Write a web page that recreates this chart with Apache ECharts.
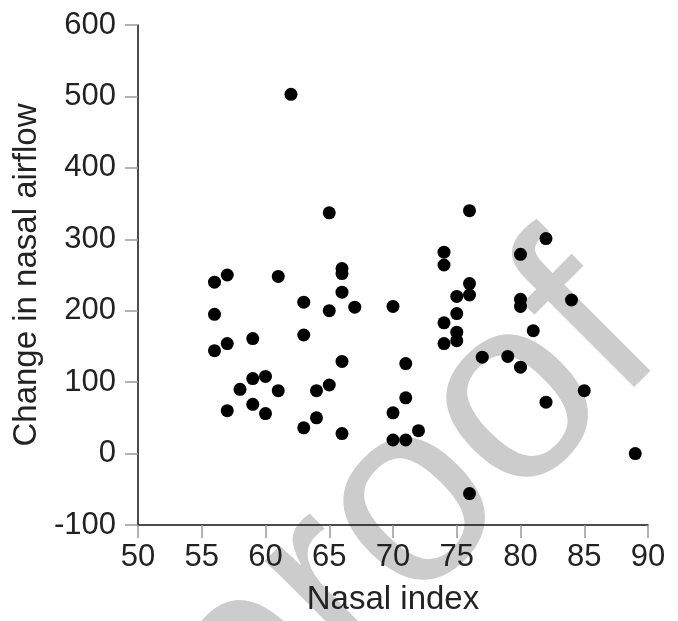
<!DOCTYPE html>
<html>
<head>
<meta charset="utf-8">
<script src="https://cdn.jsdelivr.net/npm/echarts@6/dist/echarts.min.js"></script>
<style>
html,body{margin:0;padding:0;background:#fff;}
#chart{width:678px;height:621px;}
</style>
</head>
<body>
<div id="chart"></div>
<script>
var nasalIndex = [56,57,61,63,56,59,63,57,56,60,59,58,61,64,57,59,60,63,64,62,
                  65,76,74,74,66,66,76,76,75,66,65,67,70,75,74,75,75,74,77,66,
                  71,65,66,71,70,72,70,71,76,82,80,84,80,80,81,79,80,85,82,89];
var airflowChange = [240,250,248,212,195,161,166,154,144,108,105,90,88,88,60,69,56,36,50,503,
                     337,340,282,264,259,252,238,222,220,226,200,205,206,196,183,170,158,154,135,129,
                     126,96,28,78,57,32,19,19,-56,301,279,215,216,206,172,136,121,88,72,0];
var xTicks = {min:50, max:90, interval:5};
var yTicks = {min:-100, max:600, interval:100};
var xTitle = 'Nasal index';
var yTitle = 'Change in nasal airflow';
var watermark = 'proof';

var points = nasalIndex.map(function(x,i){ return [x, airflowChange[i]]; });
var FONT = '"Liberation Sans", Arial, Helvetica, sans-serif';

var chart = echarts.init(document.getElementById('chart'), null, {renderer:'canvas'});
chart.setOption({
  animation:false,
  backgroundColor:'#ffffff',
  grid:{left:138, right:30, top:25, bottom:88, containLabel:false},
  graphic:[{
    type:'text', x:407, y:512, rotation:Math.PI/4, z:-10,
    style:{text:watermark, fill:'#cccccc', fontSize:262, fontFamily:FONT, align:'center', verticalAlign:'middle'}
  }],
  xAxis:{
    type:'value', min:xTicks.min, max:xTicks.max, interval:xTicks.interval,
    name:xTitle, nameLocation:'middle', nameGap:58,
    nameTextStyle:{fontSize:33, color:'#222', fontFamily:FONT},
    axisLine:{onZero:false, lineStyle:{color:'#111', width:1.5}},
    axisTick:{length:13, lineStyle:{color:'#999', width:1.5}},
    axisLabel:{margin:17, fontSize:31, color:'#222', fontFamily:FONT},
    splitLine:{show:false}
  },
  yAxis:{
    type:'value', min:yTicks.min, max:yTicks.max, interval:yTicks.interval,
    name:yTitle, nameLocation:'middle', nameGap:92,
    nameTextStyle:{fontSize:33, color:'#222', fontFamily:FONT},
    axisLine:{show:true, onZero:false, lineStyle:{color:'#111', width:1.5}},
    axisTick:{show:true, length:13, lineStyle:{color:'#999', width:1.5}},
    axisLabel:{margin:22, fontSize:31, color:'#222', fontFamily:FONT},
    splitLine:{show:false}
  },
  series:[{
    type:'scatter', data:points, symbol:'circle', symbolSize:13,
    itemStyle:{color:'#000000', opacity:1}
  }]
});
</script>
</body>
</html>
